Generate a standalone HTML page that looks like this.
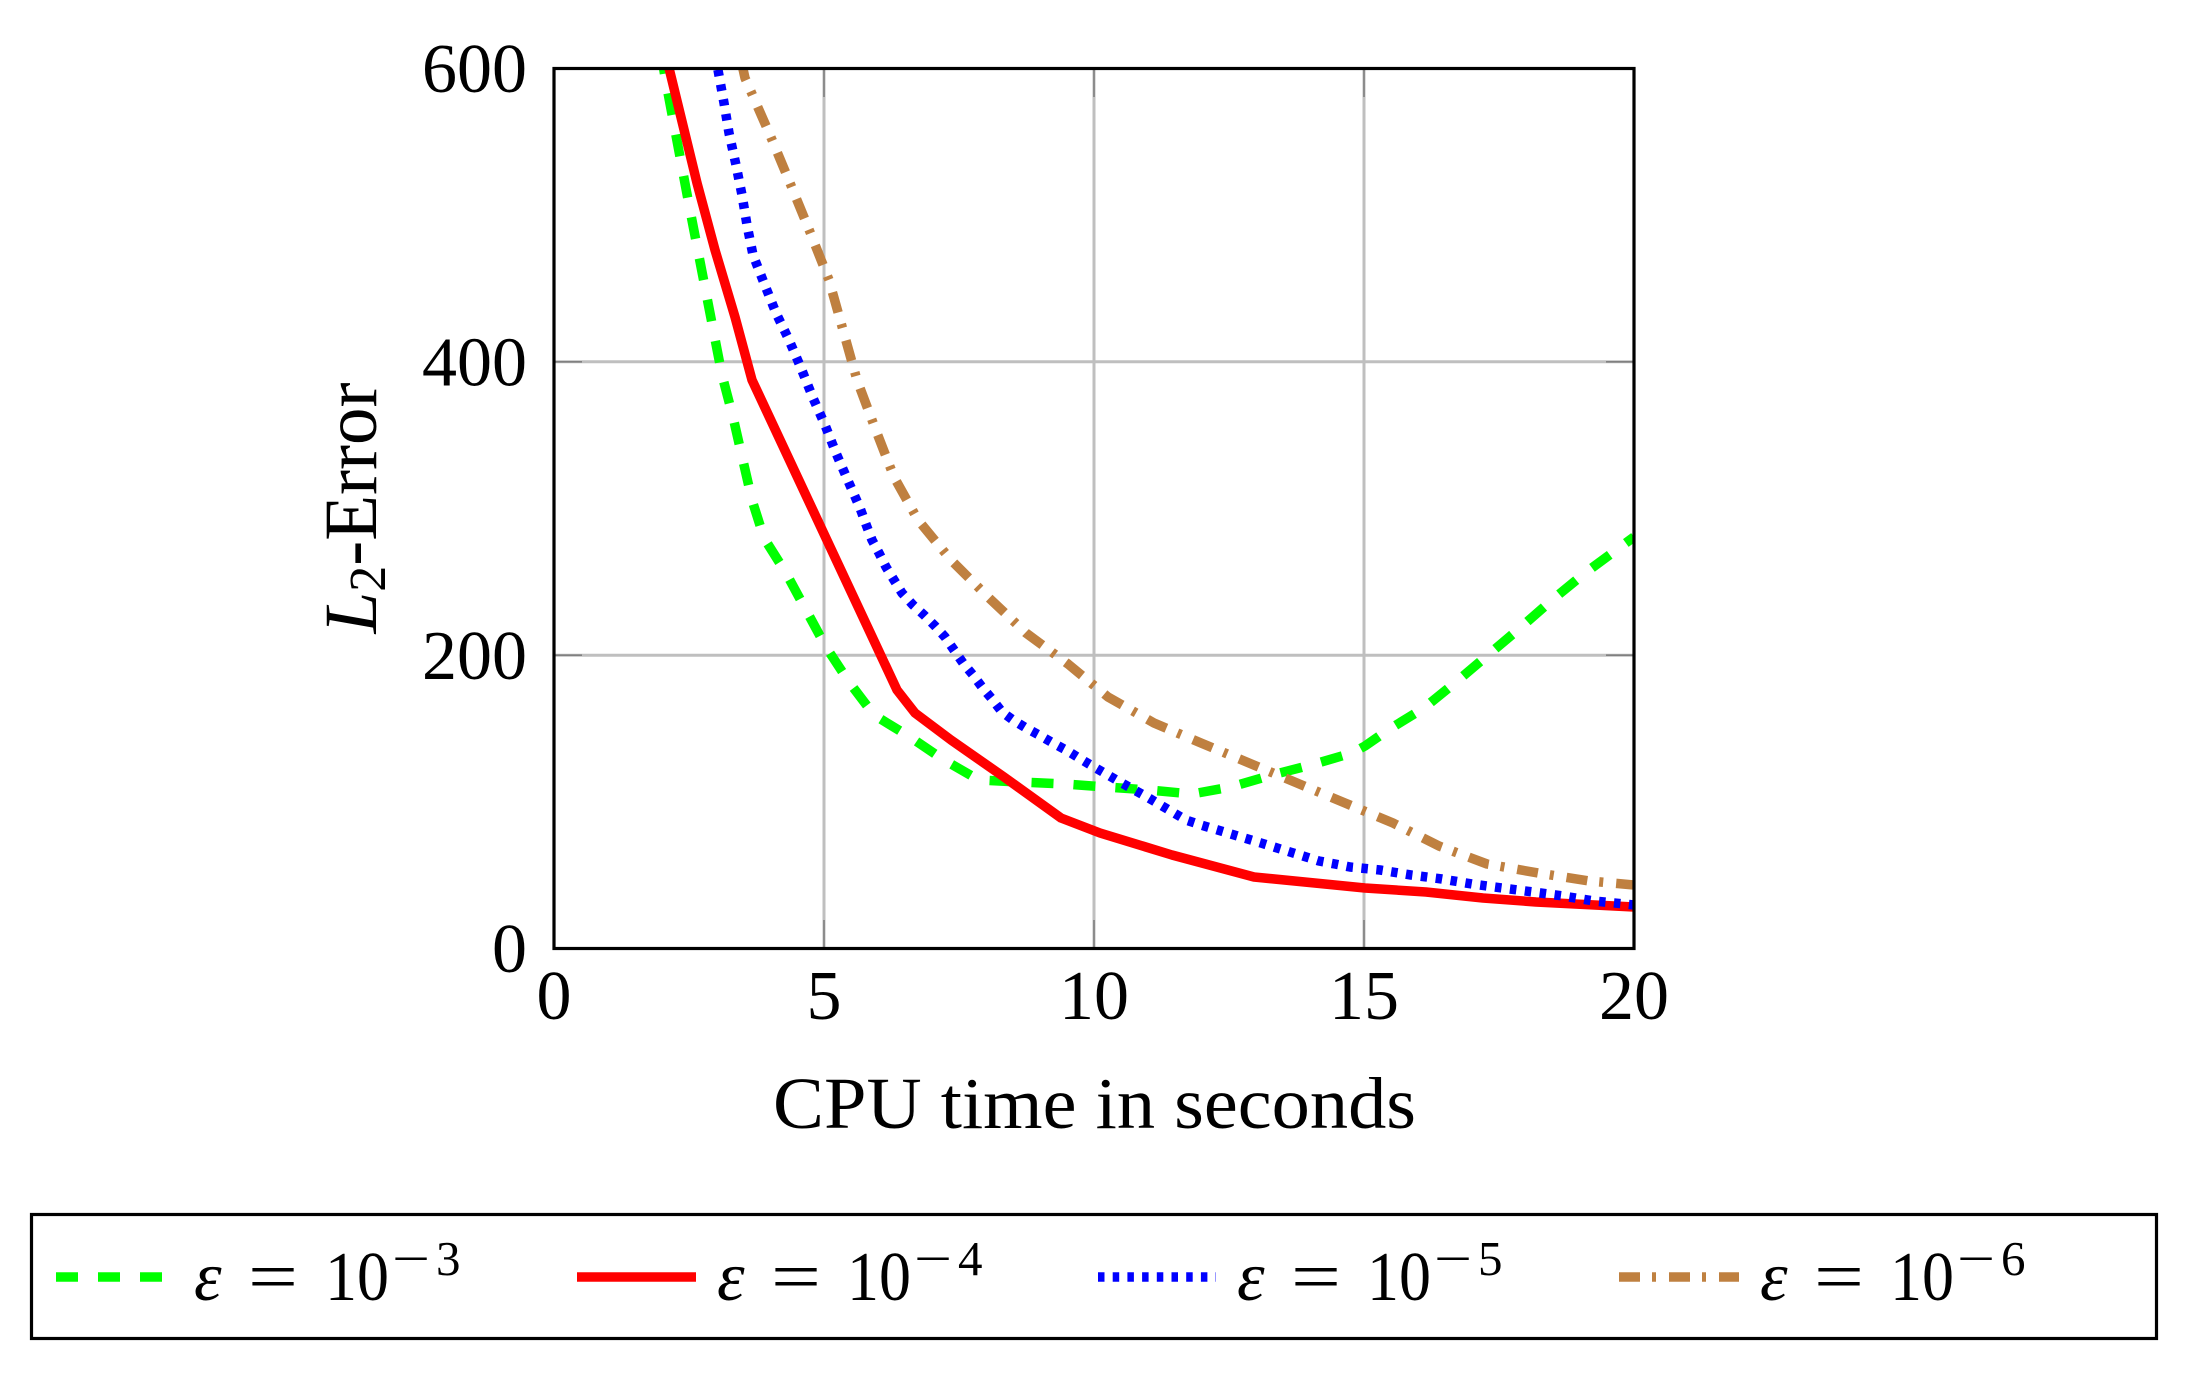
<!DOCTYPE html>
<html>
<head>
<meta charset="utf-8">
<style>
html,body{margin:0;padding:0;background:#fff;}
svg{display:block;}
text{font-family:"Liberation Serif","DejaVu Serif",serif;fill:#000;}
</style>
</head>
<body>
<svg width="2195" height="1379" viewBox="0 0 2195 1379" xmlns="http://www.w3.org/2000/svg">
<defs>
<clipPath id="plot"><rect x="554" y="68.5" width="1080" height="880"/></clipPath>
</defs>
<rect x="0" y="0" width="2195" height="1379" fill="#fff"/>

<!-- grid -->
<g stroke="#bfbfbf" stroke-width="3" fill="none">
<line x1="824" y1="68.5" x2="824" y2="948.5"/>
<line x1="1094" y1="68.5" x2="1094" y2="948.5"/>
<line x1="1364" y1="68.5" x2="1364" y2="948.5"/>
<line x1="554" y1="655.2" x2="1634" y2="655.2"/>
<line x1="554" y1="361.8" x2="1634" y2="361.8"/>
</g>
<!-- ticks -->
<g stroke="#808080" stroke-width="1.6" fill="none">
<line x1="824" y1="948.5" x2="824" y2="920"/>
<line x1="1094" y1="948.5" x2="1094" y2="920"/>
<line x1="1364" y1="948.5" x2="1364" y2="920"/>
<line x1="824" y1="68.5" x2="824" y2="97"/>
<line x1="1094" y1="68.5" x2="1094" y2="97"/>
<line x1="1364" y1="68.5" x2="1364" y2="97"/>
<line x1="554" y1="655.2" x2="582" y2="655.2"/>
<line x1="554" y1="361.8" x2="582" y2="361.8"/>
<line x1="1634" y1="655.2" x2="1606" y2="655.2"/>
<line x1="1634" y1="361.8" x2="1606" y2="361.8"/>
</g>

<!-- series -->
<g clip-path="url(#plot)" fill="none" stroke-width="9.5" stroke-linejoin="round">
<polyline stroke="#00ff00" stroke-dasharray="22 20" points="661,52 665,77 690,210 722,375 733,417 752,500 764,538 786,573 806,610 826,647 849,682 874,715 910,737 944,760 979,780 1019,782 1065,784 1106,787 1149,790 1192,794 1231,787 1272,775 1311,765 1352,753 1365,746 1388,730 1424,708 1456,682 1488,655 1520,628 1552,600 1585,573 1634,537"/>
<polyline stroke="#ff0000" points="666,52 669,68 697,183 715,250 735,317 752,380 897,690 915,713 951,740 1004,777 1061,818 1100,833 1172,855 1254,877 1365,888 1426,892 1483,898 1536,902 1634,907"/>
<polyline stroke="#0000ff" stroke-dasharray="6.5 8.5" points="715,55 718,70 724,103 729,133 736,165 742,195 747,225 753,255 764,283 776,313 789,340 801,368 813,398 825,425 836,453 849,483 860,508 867,527 872,540 879,553 886,567 894,580 902,593 913,605 924,615 935,626 945,637 954,650 963,663 973,675 982,687 992,699 1002,712 1013,720 1026,728 1039,735 1053,743 1066,750 1079,758 1094,767 1120,782 1147,797 1174,813 1186,820 1201,825 1231,834 1261,843 1290,852 1319,861 1335,864 1350,867 1380,870 1411,875 1442,879 1472,884 1502,888 1533,892 1563,896 1594,901 1625,904 1634,905"/>
<polyline stroke="#bf8040" stroke-dasharray="21 12 4 13" points="741,60 745,78 770,135 790,183 810,232 829,280 843,330 857,380 875,428 894,477 918,520 951,560 988,597 1026,633 1068,664 1108,697 1154,723 1201,743 1249,763 1297,783 1345,803 1393,823 1439,846 1487,864 1538,873 1589,881 1634,885"/>
</g>

<!-- axis box -->
<rect x="554" y="68.5" width="1080" height="880" fill="none" stroke="#000" stroke-width="3.2"/>

<!-- y tick labels -->
<g font-size="70" text-anchor="end">
<text x="527" y="92">600</text>
<text x="527" y="385.5">400</text>
<text x="527" y="679">200</text>
<text x="527" y="972">0</text>
</g>
<!-- x tick labels -->
<g font-size="70" text-anchor="middle">
<text x="554" y="1019">0</text>
<text x="824" y="1019">5</text>
<text x="1094" y="1019">10</text>
<text x="1364" y="1019">15</text>
<text x="1634" y="1019">20</text>
</g>

<!-- axis labels -->
<text x="773" y="1128" font-size="73" textLength="643" lengthAdjust="spacingAndGlyphs">CPU time in seconds</text>
<text transform="translate(376,508) rotate(-90)" font-size="75" text-anchor="middle"><tspan font-style="italic">L</tspan><tspan font-size="52" dy="9">2</tspan><tspan dy="-9">-Error</tspan></text>

<!-- legend -->
<rect x="31.5" y="1214.5" width="2125" height="124" fill="#fff" stroke="#000" stroke-width="3.2"/>
<g fill="none" stroke-width="9.5">
<line x1="56" y1="1277" x2="175" y2="1277" stroke="#00ff00" stroke-dasharray="22 20"/>
<line x1="577" y1="1277" x2="696" y2="1277" stroke="#ff0000"/>
<line x1="1098" y1="1277" x2="1216" y2="1277" stroke="#0000ff" stroke-dasharray="6.5 8.2"/>
<line x1="1619" y1="1277" x2="1739" y2="1277" stroke="#bf8040" stroke-dasharray="21 12 4 13"/>
</g>

<g font-size="70">
<text x="194" y="1300" font-style="italic">ε</text>
<text x="248" y="1300" textLength="50" lengthAdjust="spacingAndGlyphs">=</text>
<text x="325" y="1300" textLength="64" lengthAdjust="spacingAndGlyphs">10</text>
<text x="392" y="1275" font-size="49" textLength="38" lengthAdjust="spacingAndGlyphs">−</text>
<text x="436" y="1275" font-size="49">3</text>

<text x="717" y="1300" font-style="italic">ε</text>
<text x="771" y="1300" textLength="50" lengthAdjust="spacingAndGlyphs">=</text>
<text x="847" y="1300" textLength="64" lengthAdjust="spacingAndGlyphs">10</text>
<text x="914" y="1275" font-size="49" textLength="38" lengthAdjust="spacingAndGlyphs">−</text>
<text x="958" y="1275" font-size="49">4</text>

<text x="1237" y="1300" font-style="italic">ε</text>
<text x="1291" y="1300" textLength="50" lengthAdjust="spacingAndGlyphs">=</text>
<text x="1367" y="1300" textLength="64" lengthAdjust="spacingAndGlyphs">10</text>
<text x="1434" y="1275" font-size="49" textLength="38" lengthAdjust="spacingAndGlyphs">−</text>
<text x="1478" y="1275" font-size="49">5</text>

<text x="1760" y="1300" font-style="italic">ε</text>
<text x="1814" y="1300" textLength="50" lengthAdjust="spacingAndGlyphs">=</text>
<text x="1890" y="1300" textLength="64" lengthAdjust="spacingAndGlyphs">10</text>
<text x="1957" y="1275" font-size="49" textLength="38" lengthAdjust="spacingAndGlyphs">−</text>
<text x="2001" y="1275" font-size="49">6</text>
</g>
</svg>
</body>
</html>
